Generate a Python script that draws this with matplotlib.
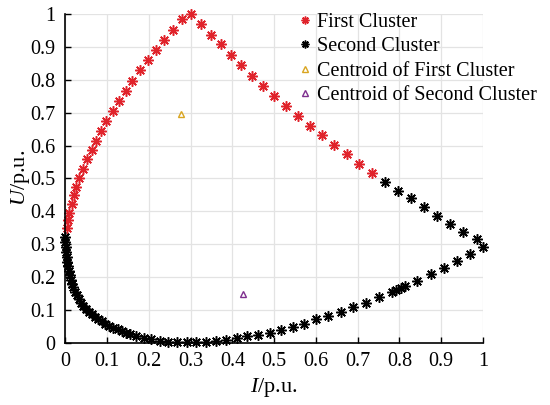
import matplotlib
matplotlib.use("Agg")
import matplotlib.pyplot as plt

plt.rcParams['font.family'] = ['Liberation Serif', 'DejaVu Serif']
plt.rcParams['mathtext.fontset'] = 'custom'
plt.rcParams['mathtext.rm'] = 'Liberation Serif'
plt.rcParams['mathtext.it'] = 'Liberation Serif:italic'

# First cluster (red)
firstI = [0.003, 0.005, 0.009, 0.015, 0.021, 0.026, 0.033, 0.041, 0.052, 0.063,
          0.073, 0.086, 0.098, 0.113, 0.128, 0.144, 0.160, 0.178, 0.197, 0.217,
          0.236, 0.257, 0.278, 0.300, 0.324, 0.348, 0.372, 0.396, 0.421, 0.447,
          0.473, 0.500, 0.529, 0.558, 0.586, 0.614, 0.644, 0.674, 0.704, 0.734]
firstU = [0.348, 0.373, 0.396, 0.421, 0.449, 0.474, 0.502, 0.529, 0.558, 0.586,
          0.615, 0.645, 0.674, 0.704, 0.735, 0.766, 0.796, 0.829, 0.859, 0.890,
          0.921, 0.952, 0.984, 1.000, 0.970, 0.938, 0.908, 0.876, 0.845, 0.813,
          0.782, 0.751, 0.721, 0.690, 0.660, 0.632, 0.601, 0.573, 0.544, 0.517]

# Second cluster (black)
secondI = [0.766, 0.796, 0.828, 0.858, 0.890, 0.922, 0.952, 0.986, 1.000,
           0.970, 0.939, 0.906, 0.876, 0.843, 0.814, 0.804, 0.792, 0.782, 0.750,
           0.720, 0.690, 0.660, 0.630, 0.600, 0.572, 0.545, 0.516, 0.489, 0.462,
           0.436, 0.410, 0.385, 0.361, 0.336, 0.313, 0.290, 0.268, 0.246, 0.226,
           0.206, 0.189, 0.170, 0.155, 0.145, 0.135, 0.125, 0.114, 0.104, 0.094,
           0.087, 0.078, 0.071, 0.063, 0.056, 0.050, 0.043, 0.038, 0.032, 0.027,
           0.023, 0.019, 0.016, 0.013, 0.011, 0.008, 0.006, 0.004, 0.003, 0.002,
           0.001, 0.000, 0.000]
secondU = [0.489, 0.462, 0.439, 0.412, 0.386, 0.361, 0.337, 0.314, 0.291,
           0.269, 0.248, 0.227, 0.208, 0.189, 0.172, 0.166, 0.160, 0.155, 0.138,
           0.122, 0.108, 0.094, 0.081, 0.071, 0.058, 0.048, 0.038, 0.030, 0.024,
           0.020, 0.015, 0.008, 0.004, 0.002, 0.001, 0.001, 0.001, 0.003, 0.006,
           0.010, 0.015, 0.021, 0.026, 0.030, 0.035, 0.040, 0.046, 0.052, 0.058,
           0.065, 0.072, 0.079, 0.086, 0.093, 0.101, 0.111, 0.121, 0.132, 0.144,
           0.155, 0.168, 0.180, 0.192, 0.205, 0.219, 0.233, 0.246, 0.261, 0.277,
           0.292, 0.307, 0.322]

centroid1 = (0.276, 0.696)
centroid2 = (0.425, 0.148)

fig = plt.figure(figsize=(5.5, 4.05), dpi=100)
ax = fig.add_axes([0.119, 0.154, 0.759, 0.811])

star = (8, 2, 0)
ax.plot(firstI, firstU, linestyle='none', marker=star, markersize=7.5, markeredgewidth=1.1,
        color='#e0232b', label='First Cluster', clip_on=False)
ax.plot(secondI, secondU, linestyle='none', marker=star, markersize=7.5, markeredgewidth=1.1,
        color='black', label='Second Cluster', clip_on=False)
ax.plot([centroid1[0]], [centroid1[1]], linestyle='none', marker='^', markersize=5,
        markerfacecolor='none', markeredgecolor='#d9a520', markeredgewidth=1.0,
        label='Centroid of First Cluster')
ax.plot([centroid2[0]], [centroid2[1]], linestyle='none', marker='^', markersize=5,
        markerfacecolor='none', markeredgecolor='#7e2f8e', markeredgewidth=1.0,
        label='Centroid of Second Cluster')

ax.set_xlim(0, 1)
ax.set_ylim(0, 1)
ax.set_xticks([i / 10 for i in range(11)])
ax.set_yticks([i / 10 for i in range(11)])
ax.set_xticklabels(['0'] + ['%.1f' % (i / 10) for i in range(1, 10)] + ['1'])
ax.set_yticklabels(['0'] + ['%.1f' % (i / 10) for i in range(1, 10)] + ['1'])
ax.tick_params(direction='in', length=4, width=1, labelsize=14.5, pad=7)
ax.grid(True, color='#e3e3e3', linewidth=0.9)
ax.set_axisbelow(True)
for s in ['top', 'right']:
    ax.spines[s].set_visible(False)
for s in ['left', 'bottom']:
    ax.spines[s].set_linewidth(1.2)

ax.set_xlabel(r'$\mathit{I}$/p.u.', fontsize=16)
ax.set_ylabel(r'$\mathit{U}$/p.u.', fontsize=16)
ax.xaxis.set_label_coords(0.5, -0.102)
ax.yaxis.set_label_coords(-0.081, 0.5)

ax.legend(loc='upper left', bbox_to_anchor=(0.535, 1.028), frameon=False, fontsize=14.5,
          handlelength=0.8, handletextpad=0.2, labelspacing=0.26, borderaxespad=0,
          markerscale=0.75)

plt.savefig('out.png', dpi=100)
